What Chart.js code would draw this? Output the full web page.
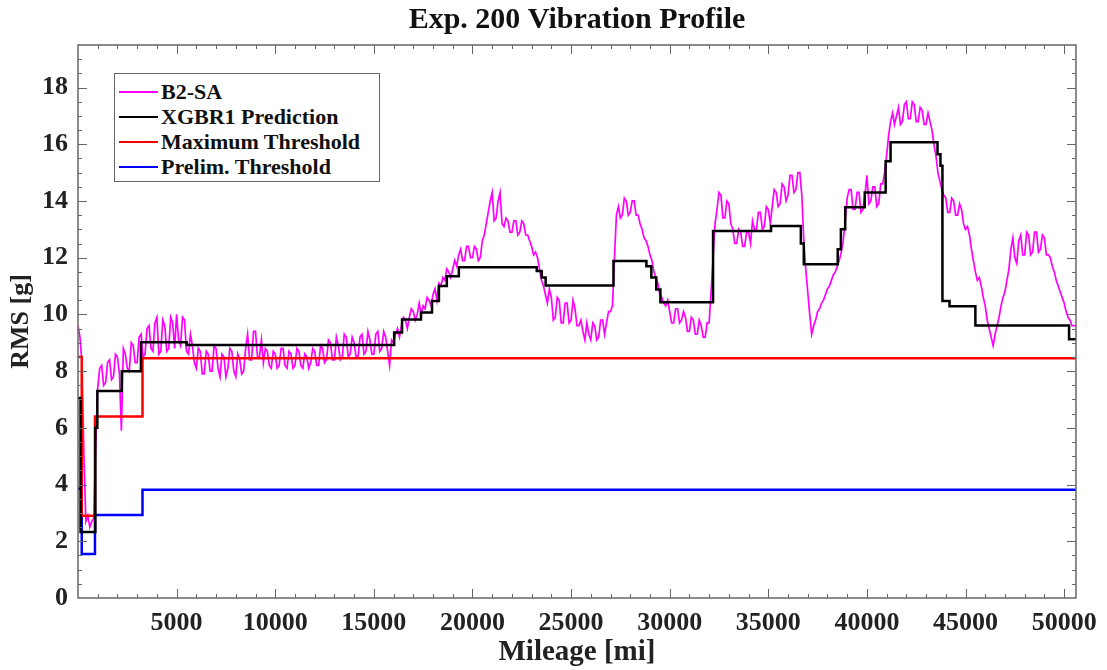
<!DOCTYPE html>
<html>
<head>
<meta charset="utf-8">
<script src="https://cdn.jsdelivr.net/npm/chart.js@4.4.1/dist/chart.umd.min.js"></script>
<style>
  body { margin: 0; background: #fff; }
  #wrap { position: relative; width: 1107px; height: 670px; }
  #legend {
    position: absolute; left: 114px; top: 73px; width: 264px; height: 107px;
    border: 1.5px solid #666; background: #fff;
    font-family: "Liberation Serif", "Times New Roman", serif; font-weight: bold; font-size: 22px; color: #111;
  }
  .row { position: absolute; left: 4px; height: 24px; display: flex; align-items: center; white-space: nowrap; }
  .row span.ln { display: inline-block; width: 39px; height: 2.5px; margin-right: 3px; }
</style>
</head>
<body>
<div id="wrap">
  <canvas id="chart" width="1107" height="670"></canvas>
  <div id="legend"></div>
</div>
<script>
// B2-SA measured RMS, sampled every 100 mi from 0 mi (one row = 2000 mi)
const b2Step = 100;
const b2Rms = [
  9.6, 9.2, 8.3, 5.0, 2.7, 2.9, 2.5, 2.7, 2.8, 5.5, 7.4, 8.1, 8.2, 7.5, 7.6, 8.3, 8.4, 7.7, 7.8, 8.6,            // 0
  8.5, 7.9, 5.9, 8.8, 8.6, 8.1, 8.0, 9.0, 8.9, 8.3, 8.3, 9.2, 9.3, 8.5, 8.6, 9.5, 9.6, 8.8, 8.7, 9.7,            // 2000
  9.9, 8.6, 8.7, 9.8, 9.6, 8.7, 8.8, 9.9, 9.7, 8.8, 10.0, 9.1, 8.9, 9.9, 9.8, 8.7, 8.6, 9.3, 8.9, 8.3,           // 4000
  8.1, 8.8, 8.7, 7.9, 7.9, 8.7, 8.6, 8.0, 8.0, 8.9, 8.8, 8.1, 7.8, 8.6, 8.5, 7.8, 8.1, 8.8, 8.7, 8.0,            // 6000
  7.8, 8.6, 8.4, 7.9, 8.0, 8.8, 9.3, 8.4, 8.4, 9.4, 9.4, 8.5, 8.5, 9.1, 8.3, 8.8, 8.7, 8.2, 8.1, 8.7,            // 8000
  8.6, 8.1, 8.2, 8.8, 8.8, 8.2, 8.1, 8.7, 8.6, 8.1, 8.2, 8.8, 8.7, 8.2, 8.1, 8.6, 8.5, 8.1, 8.3, 8.8,            // 10000
  8.7, 8.2, 8.2, 8.9, 8.8, 8.3, 8.4, 9.1, 9.0, 8.4, 8.4, 9.2, 8.9, 8.4, 8.5, 9.3, 9.2, 8.5, 8.6, 9.2,            // 12000
  9.0, 8.5, 8.5, 9.2, 9.3, 8.6, 8.7, 9.4, 9.1, 8.6, 8.6, 9.3, 9.4, 8.7, 8.8, 9.4, 9.2, 8.7, 8.2, 9.1,            // 14000
  9.0, 9.3, 9.5, 9.2, 9.6, 9.9, 9.8, 9.5, 9.9, 10.2, 10.1, 9.8, 10.0, 10.4, 10.0, 10.3, 10.2, 10.6, 10.5, 10.3,  // 16000
  10.7, 10.9, 10.5, 11.1, 11.0, 11.3, 11.2, 11.6, 11.5, 11.3, 11.6, 11.9, 11.7, 12.1, 12.3, 11.9, 11.9, 12.4, 12.4, 12.0, // 18000
  12.0, 12.4, 12.3, 11.9, 12.0, 12.6, 12.8, 13.2, 13.6, 14.0, 14.3, 13.3, 13.4, 14.0, 14.3, 13.2, 13.1, 13.4, 13.3, 12.9, // 20000
  12.9, 13.3, 13.3, 12.8, 12.9, 13.3, 13.2, 12.8, 12.8, 12.6, 12.4, 12.1, 12.2, 12.0, 11.6, 11.2, 11.0, 10.7, 10.4, 10.9, // 22000
  10.6, 9.8, 9.9, 10.6, 10.5, 9.7, 9.7, 10.4, 10.4, 9.7, 9.8, 10.5, 10.2, 9.6, 9.6, 9.8, 9.4, 9.1, 9.7, 9.3,     // 24000
  9.1, 9.7, 9.6, 9.1, 9.2, 9.8, 9.8, 9.3, 9.7, 10.1, 10.1, 10.3, 12.0, 13.5, 13.8, 13.4, 13.5, 14.1, 14.0, 13.5,  // 26000
  13.6, 14.0, 14.0, 13.5, 13.5, 13.2, 13.0, 12.7, 12.6, 12.4, 12.1, 11.9, 11.5, 11.3, 11.1, 10.7, 10.6, 10.4, 10.3, 10.5, // 28000
  10.1, 9.7, 9.7, 10.2, 10.2, 9.7, 9.8, 10.1, 9.9, 9.4, 9.4, 9.9, 9.8, 9.3, 9.3, 9.8, 9.6, 9.2, 9.2, 9.7,       // 30000
  9.7, 10.8, 12.0, 13.2, 13.7, 14.3, 14.2, 13.4, 13.4, 14.0, 13.9, 13.2, 13.0, 12.5, 12.5, 13.0, 12.9, 12.4, 12.4, 12.9, // 32000
  12.9, 12.5, 13.3, 13.0, 13.0, 13.6, 13.6, 13.0, 13.1, 13.8, 13.7, 13.2, 13.8, 14.4, 14.3, 13.8, 13.9, 14.6, 14.5, 14.0, // 34000
  14.2, 14.9, 14.9, 14.3, 14.4, 15.0, 15.0, 14.2, 12.6, 11.6, 10.8, 10.0, 9.3, 9.6, 9.8, 10.1, 10.2, 10.4, 10.5, 10.7,  // 36000
  10.9, 11.0, 11.2, 11.4, 11.5, 11.7, 11.9, 12.2, 12.6, 13.3, 14.1, 14.4, 14.4, 13.7, 13.7, 14.3, 14.3, 13.6, 13.7, 14.2, // 38000
  14.9, 13.9, 14.0, 14.5, 14.5, 13.8, 13.9, 14.6, 14.6, 15.0, 15.6, 16.3, 16.8, 17.1, 16.7, 17.0, 17.3, 16.7, 16.8, 17.4, // 40000
  17.5, 16.9, 16.9, 17.5, 17.4, 16.8, 16.8, 17.3, 17.2, 16.7, 16.7, 17.1, 16.8, 16.5, 16.0, 15.6, 15.0, 14.7, 14.4, 14.2, // 42000
  14.1, 13.6, 13.6, 14.1, 14.0, 13.5, 13.5, 13.9, 13.7, 13.2, 13.0, 13.1, 12.8, 12.3, 11.9, 11.5, 11.2, 11.3, 11.0, 10.6, // 44000
  10.3, 9.8, 9.5, 9.2, 8.9, 9.3, 9.6, 9.9, 10.3, 10.6, 10.8, 11.2, 11.6, 12.3, 12.7, 12.0, 11.8, 12.6, 12.8, 12.1,      // 46000
  12.1, 12.9, 12.8, 12.1, 12.2, 12.9, 12.9, 12.2, 12.3, 12.8, 12.7, 12.1, 12.1, 12.0, 11.7, 11.5, 11.2, 11.0, 10.8, 10.6, // 48000
  10.4, 10.1, 9.9, 9.8, 9.6, 9.6, 9.6                                                                                  // 50000
];

// XGBR1 prediction steps: mileage where each level starts, and the level
const xgbMiles = [0, 130, 880, 980, 2220, 3190, 5510, 16030, 16430, 17390, 17950, 18300, 18700, 19310,
  23260, 23510, 23710, 27150, 28820, 29070, 29320, 29530, 32200, 35140, 36650, 36800, 38520, 38680,
  38900, 39890, 40950, 41200, 43580, 43730, 43830, 44190, 45500, 50250, 50600];
const xgbRms = [7.05, 2.33, 6.0, 7.3, 8.0, 9.02, 8.92, 9.36, 9.82, 10.07, 10.47, 11.0, 11.35, 11.66,
  11.53, 11.3, 11.02, 11.88, 11.7, 11.3, 10.88, 10.43, 12.94, 13.12, 12.5, 11.77, 12.3, 13.0,
  13.78, 14.3, 15.4, 16.07, 15.65, 15.24, 10.47, 10.29, 9.61, 9.12, 9.12];

// thresholds
const maxThrMiles = [0, 190, 860, 3270, 50600];
const maxThrRms = [8.5, 2.9, 6.4, 8.45, 8.45];
const prelimMiles = [0, 190, 860, 3270, 50600];
const prelimRms = [3.85, 1.55, 2.93, 3.82, 3.82];

const seriesNames = ["B2-SA", "XGBR1 Prediction", "Maximum Threshold", "Prelim. Threshold"];
const seriesColors = ["#ff00ff", "#000000", "#ff0000", "#0000ff"];

// axis ticks
const xTicks = [5000, 10000, 15000, 20000, 25000, 30000, 35000, 40000, 45000, 50000];
const yTicks = [0, 2, 4, 6, 8, 10, 12, 14, 16, 18];
const xMinorStep = 1000;
const yMinorStep = 0.5;

function pairs(xs, ys) {
  return xs.map((x, i) => ({ x: x, y: ys[i] }));
}

const serif = "'Liberation Serif', 'Times New Roman', serif";
const frameColor = "#666";

// MATLAB-like box with inward major/minor ticks on all sides
const boxTicks = {
  id: "boxTicks",
  afterDraw(chart) {
    const { ctx, chartArea: a, scales } = chart;
    const xs = scales.x, ys = scales.y;
    ctx.save();
    ctx.strokeStyle = frameColor;
    ctx.lineWidth = 1.5;
    ctx.strokeRect(a.left, a.top, a.right - a.left, a.bottom - a.top);
    ctx.lineWidth = 1;
    ctx.beginPath();
    for (let v = xMinorStep; v < xs.max; v += xMinorStep) {
      const px = Math.round(xs.getPixelForValue(v)) + 0.5;
      const len = xTicks.includes(v) ? 9 : 4;
      ctx.moveTo(px, a.bottom); ctx.lineTo(px, a.bottom - len);
      ctx.moveTo(px, a.top); ctx.lineTo(px, a.top + len);
    }
    for (let v = yMinorStep; v < ys.max; v += yMinorStep) {
      const py = Math.round(ys.getPixelForValue(v)) + 0.5;
      const len = yTicks.includes(v) ? 9 : 4;
      ctx.moveTo(a.left, py); ctx.lineTo(a.left + len, py);
      ctx.moveTo(a.right, py); ctx.lineTo(a.right - len, py);
    }
    ctx.stroke();
    ctx.restore();
  }
};

new Chart(document.getElementById("chart"), {
  type: "line",
  data: {
    datasets: [
      { label: seriesNames[0], data: b2Rms.map((v, i) => ({ x: i * b2Step, y: v })),
        borderColor: seriesColors[0], borderWidth: 1.7, order: 4 },
      { label: seriesNames[1], data: pairs(xgbMiles, xgbRms), stepped: true,
        borderColor: seriesColors[1], borderWidth: 2.5, order: 1 },
      { label: seriesNames[2], data: pairs(maxThrMiles, maxThrRms), stepped: true,
        borderColor: seriesColors[2], borderWidth: 2.5, order: 2 },
      { label: seriesNames[3], data: pairs(prelimMiles, prelimRms), stepped: true,
        borderColor: seriesColors[3], borderWidth: 2.5, order: 3 }
    ]
  },
  options: {
    responsive: false,
    animation: false,
    devicePixelRatio: 1,
    elements: { point: { radius: 0 }, line: { tension: 0 } },
    layout: { padding: { left: 0, right: 27, top: 0, bottom: 0 } },
    plugins: {
      legend: { display: false },
      tooltip: { enabled: false },
      title: {
        display: true,
        fullSize: false,
        text: "Exp. 200 Vibration Profile",
        color: "#111",
        font: { family: serif, weight: "bold", size: 30 },
        padding: { top: 2, bottom: 7 }
      }
    },
    scales: {
      x: {
        type: "linear", min: 0, max: 50600,
        grid: { display: false, drawTicks: false },
        border: { display: false },
        afterBuildTicks: s => { s.ticks = xTicks.map(v => ({ value: v })); },
        ticks: {
          padding: 10, maxRotation: 0, autoSkip: false,
          color: "#222", font: { family: serif, weight: "bold", size: 26 },
          callback: v => String(v)
        },
        title: { display: true, text: "Mileage [mi]", color: "#222",
          font: { family: serif, weight: "bold", size: 29 }, padding: { top: 0, bottom: 0 } },
        afterFit: s => { s.height = 72; }
      },
      y: {
        min: 0, max: 19.5,
        grid: { display: false, drawTicks: false },
        border: { display: false },
        afterBuildTicks: s => { s.ticks = yTicks.map(v => ({ value: v })); },
        ticks: {
          padding: 10, autoSkip: false,
          color: "#222", font: { family: serif, weight: "bold", size: 26 },
          callback: v => String(v)
        },
        title: { display: true, text: "RMS [g]", color: "#222",
          font: { family: serif, weight: "bold", size: 26 }, padding: { top: 6, bottom: 0 } },
        afterFit: s => { s.width = 78; }
      }
    }
  },
  plugins: [boxTicks]
});

// legend box drawn over the plot, top left
const legend = document.getElementById("legend");
seriesNames.forEach((name, i) => {
  const row = document.createElement("div");
  row.className = "row";
  row.style.top = (6 + i * 25) + "px";
  row.innerHTML = `<span class="ln" style="background:${seriesColors[i]}"></span>${name}`;
  legend.appendChild(row);
});
</script>
</body>
</html>
